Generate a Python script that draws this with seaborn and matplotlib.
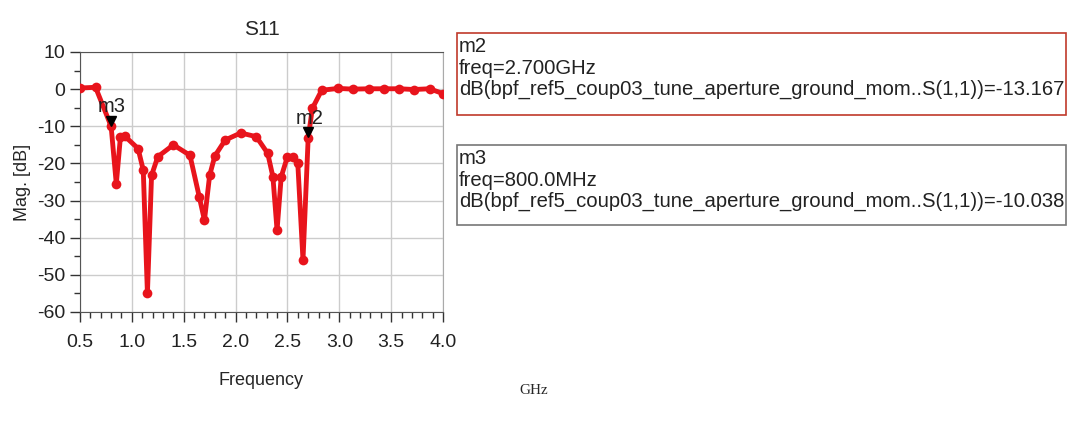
import seaborn as sns
import matplotlib.pyplot as plt
import pandas as pd
from matplotlib.ticker import MultipleLocator
from matplotlib.patches import Rectangle

# S11 (GHz, dB)
freq = [0.50, 0.65, 0.80, 0.85, 0.89, 0.93, 1.06, 1.11, 1.15, 1.19, 1.25,
        1.40, 1.56, 1.65, 1.70, 1.75, 1.80, 1.90, 2.05, 2.20, 2.31, 2.36,
        2.40, 2.44, 2.50, 2.55, 2.60, 2.65, 2.70, 2.74, 2.83, 2.99, 3.13,
        3.29, 3.43, 3.58, 3.72, 3.87, 4.00]
s11_db = [0.3, 0.5, -10.0, -25.5, -12.8, -12.6, -16.0, -21.8, -55.0, -23.2,
          -18.2, -15.0, -17.8, -29.0, -35.3, -23.2, -18.0, -13.7, -11.8,
          -12.8, -17.3, -23.6, -38.0, -23.6, -18.2, -18.3, -20.0, -46.0,
          -13.2, -5.2, -0.3, 0.2, 0.0, 0.1, 0.1, 0.1, -0.1, 0.1, -1.2]

markers = ["m2", "m3"]
marker_freq = [2.70, 0.80]
marker_db = [-13.167, -10.038]
marker_text = ["freq=2.700GHz", "freq=800.0MHz"]
trace = "dB(bpf_ref5_coup03_tune_aperture_ground_mom..S(1,1))"

df = pd.DataFrame({"freq": freq, "s11": s11_db})

sns.set_style("white")
plt.rcParams["font.family"] = ["Liberation Sans", "DejaVu Sans"]
plt.rcParams["axes.unicode_minus"] = False

fig = plt.figure(figsize=(10.69, 4.26), dpi=100)
ax = fig.add_axes([80 / 1069, 1 - 312 / 426, 363 / 1069, 260 / 426])

sns.lineplot(data=df, x="freq", y="s11", ax=ax, color="#e8141c", lw=3.5,
             marker="o", markersize=7, markeredgewidth=0, zorder=3)

# marker triangles
for name, f, v in zip(markers, marker_freq, marker_db):
    ax.plot(f, v + 1.5, marker="v", color="black", ms=7, zorder=4)
    ax.text(f + 0.01, v + 2.8, name, fontsize=14.5, ha="center", va="bottom",
            color="#222222", zorder=5)

ax.set_xlim(0.5, 4.0)
ax.set_ylim(-60, 10)
ax.xaxis.set_major_locator(MultipleLocator(0.5))
ax.xaxis.set_minor_locator(MultipleLocator(0.1))
ax.yaxis.set_major_locator(MultipleLocator(10))
ax.yaxis.set_minor_locator(MultipleLocator(5))
ax.set_xticklabels([f"{t:.1f}" for t in ax.get_xticks()])
ax.tick_params(which="major", direction="out", length=7, width=1, color="#333333",
               labelsize=14, left=True, bottom=True, labelcolor="#222222")
ax.tick_params(axis="x", which="major", pad=9)
ax.tick_params(which="minor", direction="out", length=4, width=1, color="#333333",
               left=True, bottom=True)
ax.grid(True, which="major", color="#cccccc", lw=1)
for s in ["top", "left", "bottom"]:
    ax.spines[s].set_color("#555555")
ax.spines["right"].set_color("#aaaaaa")

ax.set_title("S11", fontsize=15, pad=12)
ax.set_xlabel("Frequency", fontsize=13, labelpad=15)
ax.set_ylabel("Mag. [dB]", fontsize=13, labelpad=4)

# marker readout boxes
boxes = [(33, 115, "#c0392b"), (145, 225, "#777777")]
for (top, bot, ec), name, mt, v in zip(boxes, markers, marker_text, marker_db):
    fig.patches.append(Rectangle((457 / 1069, 1 - bot / 426), 609 / 1069,
                                 (bot - top) / 426, transform=fig.transFigure,
                                 fill=False, ec=ec, lw=1.2))
    lines = [name, mt, f"{trace}={v:.3f}"]
    for i, s in enumerate(lines):
        fig.text(459 / 1069, 1 - (top + 14 + 21 * i) / 426, s, fontsize=14.6,
                 va="center", ha="left", color="#222222")

fig.text(534 / 1069, 1 - 390 / 426, "GHz", fontsize=11, family="Liberation Serif",
         ha="center", va="center")

fig.savefig("out.png", dpi=100)
